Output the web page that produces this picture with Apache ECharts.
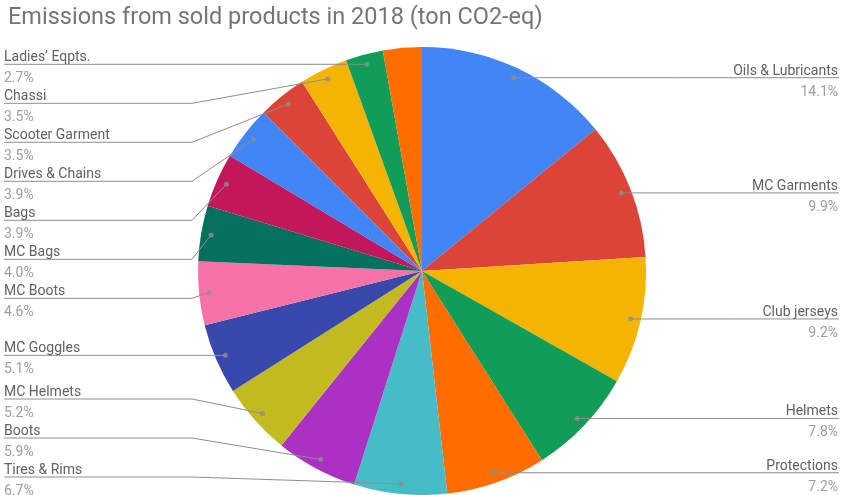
<!DOCTYPE html>
<html><head><meta charset="utf-8">
<script src="https://cdn.jsdelivr.net/npm/echarts@6/dist/echarts.min.js"></script>
<style>html,body{margin:0;padding:0;background:#fff}#c{width:841px;height:495px}</style>
</head><body><div id="c"></div>
<script>
const chartTitle = 'Emissions from sold products in 2018 (ton CO2-eq)';
const categories = ['Oils & Lubricants','MC Garments','Club jerseys','Helmets','Protections','Tires & Rims','Boots','MC Helmets','MC Goggles','MC Boots','MC Bags','Bags','Drives & Chains','Scooter Garment','Chassi','Ladies\u2019 Eqpts.','Other'];
const shares = [14.1,9.9,9.2,7.8,7.2,6.7,5.9,5.2,5.1,4.6,4.0,3.9,3.9,3.5,3.5,2.7,2.8];
const showLabel = [true,true,true,true,true,true,true,true,true,true,true,true,true,true,true,true,false];
const colors = ['#4285F4','#DB4437','#F4B400','#0F9D58','#FF6D00','#46BDC6','#AB30C4','#C1BB20','#3949AB','#F773A7','#05705E','#C2185B','#4285F4','#DB4437','#F4B400','#0F9D58','#FF6D00'];

// layout constants
const CX = 422, CY = 271, R = 224, DOT_FRAC = 0.955, GAP = 39, BOTTOM = 477, TEXT_DY = 4;
const total = shares.reduce((a, b) => a + b, 0);
let cum = 0;
const mids = shares.map(v => { const m = cum + v / 2; cum += v; return m; });
const dots = mids.map(m => { const a = m / total * 2 * Math.PI; return [CX + R * DOT_FRAC * Math.sin(a), CY - R * DOT_FRAC * Math.cos(a)]; });
const isRight = mids.map(m => m / total < 0.5);
const labelY = dots.map(d => d[1]);
function spread(idx) {
  idx.sort((a, b) => dots[a][1] - dots[b][1]);
  for (let k = 1; k < idx.length; k++) labelY[idx[k]] = Math.max(labelY[idx[k]], labelY[idx[k - 1]] + GAP);
  labelY[idx[idx.length - 1]] = Math.min(labelY[idx[idx.length - 1]], BOTTOM);
  for (let k = idx.length - 2; k >= 0; k--) labelY[idx[k]] = Math.min(labelY[idx[k]], labelY[idx[k + 1]] - GAP);
}
spread(categories.map((c, i) => i).filter(i => showLabel[i] && !isRight[i]));
spread(categories.map((c, i) => i).filter(i => showLabel[i] && isRight[i]));

const pieData = categories.map((c, i) => ({ name: c, value: shares[i] }));
const chart = echarts.init(document.getElementById('c'), null, { renderer: 'canvas' });
chart.setOption({
  animation: false,
  backgroundColor: '#ffffff',
  title: { text: chartTitle, left: 3, top: 1, textStyle: { fontFamily: 'Roboto', fontSize: 23.5, fontWeight: 'normal', color: '#757575' } },
  polar: { center: [CX, CY], radius: R },
  angleAxis: { type: 'value', min: 0, max: total, startAngle: 90, clockwise: true, show: false },
  radiusAxis: { type: 'value', min: 0, max: 1, show: false },
  series: [{
    type: 'pie',
    z: 2,
    center: [CX, CY],
    radius: R,
    startAngle: 90,
    clockwise: true,
    silent: true,
    emphasis: { scale: false },
    label: { show: false },
    labelLine: { show: false },
    data: pieData.map((d, i) => ({ name: d.name, value: d.value, itemStyle: { color: colors[i] } }))
  }, {
    type: 'pie',
    z: 4,
    center: [CX, CY],
    radius: R,
    startAngle: 90,
    clockwise: true,
    silent: true,
    avoidLabelOverlap: false,
    emphasis: { scale: false },
    itemStyle: { color: 'rgba(0,0,0,0)' },
    data: pieData.map((d, i) => ({
      name: d.name, value: d.value,
      label: { show: showLabel[i] },
      labelLine: { show: showLabel[i] }
    })),
    label: {
      position: 'outside',
      formatter: p => '{n|' + p.name + '}\n{p|' + p.value.toFixed(1) + '%}',
      rich: {
        n: { fontFamily: 'Roboto', fontSize: 14, color: '#616161', lineHeight: 21 },
        p: { fontFamily: 'Roboto', fontSize: 14, color: '#9e9e9e', lineHeight: 21 }
      }
    },
    labelLine: { show: true, length: 5, length2: 5, lineStyle: { color: '#8e8e8e', width: 1 } },
    labelLayout: function (p) {
      const i = p.dataIndex;
      if (!showLabel[i]) return {};
      const d = dots[i], y = labelY[i];
      if (isRight[i]) {
        return { x: 838, y: y + TEXT_DY, align: 'right', verticalAlign: 'middle', labelLinePoints: [d, [(d[0] + 839) / 2, y], [839, y]] };
      }
      return { x: 4, y: y + TEXT_DY, align: 'left', verticalAlign: 'middle', labelLinePoints: [d, [192, y], [4, y]] };
    }
  }, {
    type: 'scatter',
    coordinateSystem: 'polar',
    silent: true,
    symbolSize: 5,
    z: 6,
    itemStyle: { color: '#8e8e8e' },
    data: mids.map((m, i) => showLabel[i] ? [DOT_FRAC, m] : null).filter(v => v)
  }]
});
</script></body></html>
